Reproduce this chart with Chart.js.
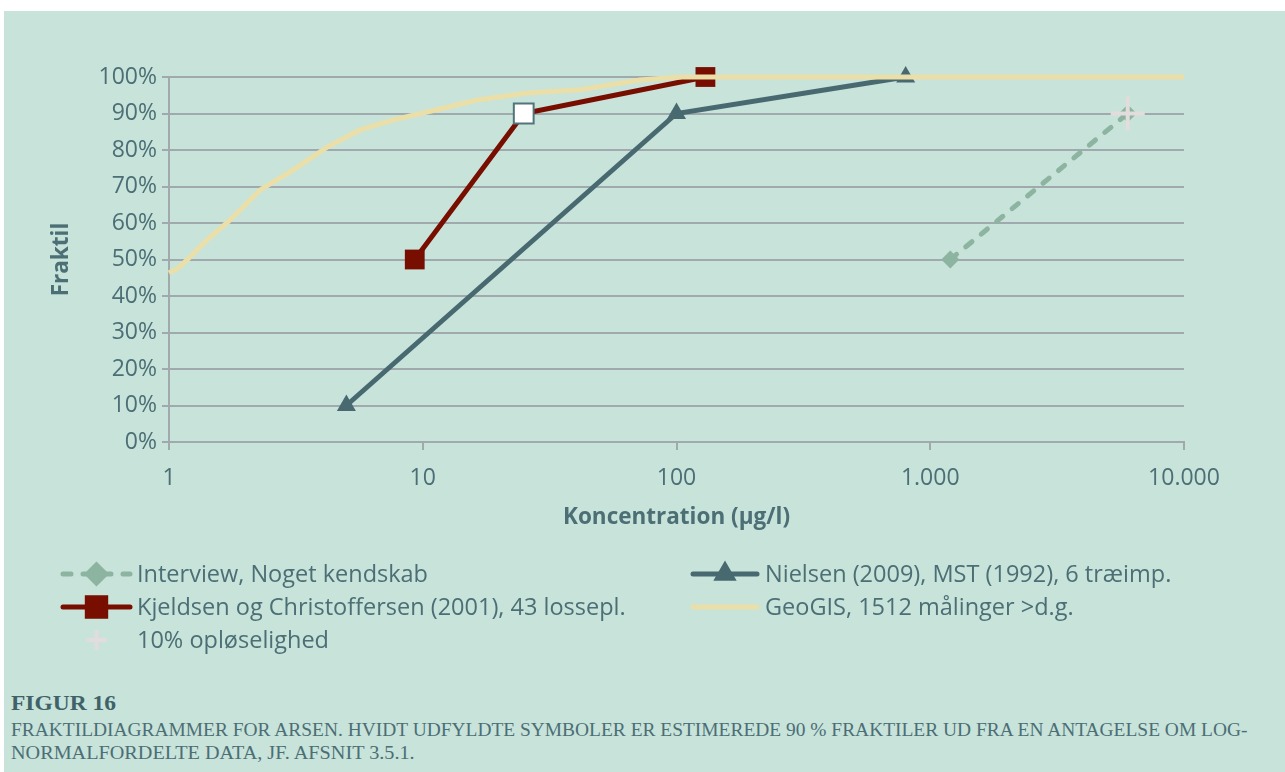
<!DOCTYPE html>
<html>
<head>
<meta charset="utf-8">
<script src="https://cdn.jsdelivr.net/npm/chart.js@4.4.1/dist/chart.umd.min.js"></script>
<style>
  html, body { margin: 0; padding: 0; background: #ffffff; width: 1285px; height: 772px; overflow: hidden; }
  #panel { position: absolute; left: 4px; top: 11px; right: 0; bottom: 0; background: #c7e3da; }
  #chart { position: absolute; left: 0; top: 0; }
  .cap { position: absolute; left: 11px; font-family: "Liberation Serif", serif; color: #4c6e75; white-space: nowrap; transform-origin: 0 0; line-height: 1.15; }
  #capTitle { top: 691px; font-size: 21px; font-weight: bold; color: #3f6269; }
  #capLine1 { top: 719px; font-size: 19px; }
  #capLine2 { top: 742px; font-size: 19px; }
</style>
</head>
<body>
<div id="panel"></div>
<canvas id="chart" width="1285" height="660"></canvas>
<div class="cap" id="capTitle">FIGUR 16</div>
<div class="cap" id="capLine1">FRAKTILDIAGRAMMER FOR ARSEN. HVIDT UDFYLDTE SYMBOLER ER ESTIMEREDE 90 % FRAKTILER UD FRA EN ANTAGELSE OM LOG-</div>
<div class="cap" id="capLine2">NORMALFORDELTE DATA, JF. AFSNIT 3.5.1.</div>
<script>
// series values (concentration in µg/l, fraktil in %)
const interviewX = [1200, 6000];
const interviewY = [50, 90];
const nielsenX = [5, 100, 800];
const nielsenY = [10, 90, 100];
const kjeldsenX = [9.3, 25, 130];
const kjeldsenY = [50, 90, 100];
const geoX = [1.0, 1.1, 1.21, 1.41, 1.69, 1.96, 2.28, 3.08, 4.2, 5.66, 7.6, 10.4, 16.4, 25.8, 41.7, 71.8, 103, 10000];
const geoY = [46.3, 47.9, 50.7, 55.3, 60, 64.4, 69, 74.5, 80.8, 85.5, 88.2, 90.4, 93.7, 95.6, 96.5, 99.2, 100, 100];
const opl10X = [6000];
const opl10Y = [90];

const xTicks = [1, 10, 100, 1000, 10000];
const legendLabels = [
  'Interview, Noget kendskab',
  'Nielsen (2009), MST (1992), 6 træimp.',
  'Kjeldsen og Christoffersen (2001), 43 lossepl.',
  'GeoGIS, 1512 målinger >d.g.',
  '10% opløselighed'
];
const xTitle = 'Koncentration (µg/l)';
const yTitle = 'Fraktil';

const textColor = '#4c6e75';
const gridColor = '#a0a9ab';
const FONT = '"Open Sans", sans-serif';

function pts(xs, ys) {
  return xs.map((x, i) => ({ x: x, y: ys[i] }));
}

function fmtThousands(v) {
  return String(v).replace(/\B(?=(\d{3})+(?!\d))/g, '.');
}

const datasets = [
  {
    label: legendLabels[0],
    data: pts(interviewX, interviewY),
    borderColor: '#8db4a0',
    backgroundColor: '#8db4a0',
    borderWidth: 5,
    borderDash: [8, 12],
    borderCapStyle: 'round',
    pointStyle: 'rectRot',
    pointRadius: 9,
    pointBorderWidth: 0,
    clip: false,
    order: 4,
  },
  {
    label: legendLabels[1],
    data: pts(nielsenX, nielsenY),
    borderColor: '#496970',
    backgroundColor: '#496970',
    borderWidth: 5,
    pointStyle: 'triangle',
    pointRadius: 11,
    pointBorderWidth: 0,
    clip: false,
    order: 3,
  },
  {
    label: legendLabels[2],
    data: pts(kjeldsenX, kjeldsenY),
    borderColor: '#780e00',
    backgroundColor: '#780e00',
    borderWidth: 5,
    pointStyle: 'rect',
    pointRadius: 14,
    pointBackgroundColor: ['#780e00', '#ffffff', '#780e00'],
    pointBorderColor: ['#780e00', '#52757b', '#780e00'],
    pointBorderWidth: [0, 2, 0],
    clip: false,
    order: 2,
  },
  {
    label: legendLabels[3],
    data: pts(geoX, geoY),
    borderColor: '#ebdfa9',
    backgroundColor: '#ebdfa9',
    borderWidth: 5,
    pointRadius: 0,
    clip: false,
    order: 1,
  },
  {
    label: legendLabels[4],
    data: pts(opl10X, opl10Y),
    borderColor: '#e3dcdc',
    backgroundColor: '#e3dcdc',
    showLine: false,
    pointStyle: 'cross',
    pointRadius: 17,
    pointBorderWidth: 4,
    clip: false,
    order: 0,
  },
];

// custom legend in two columns + axis titles
const extrasPlugin = {
  id: 'extras',
  afterDraw(chart) {
    const ctx = chart.ctx;
    const area = chart.chartArea;
    ctx.save();
    ctx.fillStyle = textColor;
    ctx.font = 'bold 22.5px ' + FONT;
    ctx.textAlign = 'center';
    ctx.textBaseline = 'middle';
    ctx.fillText(xTitle, (area.left + area.right) / 2, 518);
    ctx.translate(62, (area.top + area.bottom) / 2);
    ctx.rotate(-Math.PI / 2);
    ctx.fillText(yTitle, 0, 0);
    ctx.restore();

    const cols = [{ x0: 60, x1: 133, tx: 137 }, { x0: 690, x1: 760, tx: 765 }];
    const rows = [574, 607, 640];
    const slots = [[0, 0], [0, 1], [1, 0], [1, 1], [2, 0]];
    const legendPoint = [
      { style: 'rectRot', r: 9 },
      { style: 'triangle', r: 8.5 },
      { style: 'rect', r: 13 },
      null,
      { style: 'cross', r: 10 },
    ];
    datasets.forEach((ds, i) => {
      const c = cols[slots[i][1]];
      const y = rows[slots[i][0]];
      const cx = (c.x0 + c.x1) / 2;
      ctx.save();
      if (ds.showLine !== false) {
        ctx.strokeStyle = ds.borderColor;
        ctx.lineWidth = ds.borderWidth;
        ctx.lineCap = 'round';
        ctx.setLineDash(ds.borderDash ? [8, 12] : []);
        ctx.beginPath();
        ctx.moveTo(c.x0 + 3, y);
        ctx.lineTo(c.x1 - 3, y);
        ctx.stroke();
        ctx.setLineDash([]);
      }
      const lp = legendPoint[i];
      if (lp) {
        ctx.fillStyle = ds.backgroundColor;
        ctx.strokeStyle = ds.borderColor;
        ctx.lineWidth = ds.pointStyle === 'cross' ? 4 : 0;
        Chart.helpers.drawPoint(ctx, { pointStyle: lp.style, radius: lp.r, rotation: 0, borderWidth: ctx.lineWidth }, cx, y);
      }
      ctx.fillStyle = textColor;
      ctx.font = '23.5px ' + FONT;
      ctx.textAlign = 'left';
      ctx.textBaseline = 'middle';
      ctx.fillText(ds.label, c.tx, y + 1);
      ctx.restore();
    });
  },
};

new Chart(document.getElementById('chart').getContext('2d'), {
  type: 'line',
  data: { datasets: datasets },
  options: {
    responsive: false,
    animation: false,
    devicePixelRatio: 1,
    layout: { padding: { left: 0, top: 77, right: 101, bottom: 118 } },
    plugins: { legend: { display: false }, tooltip: { enabled: false } },
    elements: { line: { tension: 0 } },
    scales: {
      x: {
        type: 'logarithmic',
        min: 1,
        max: 10000,
        afterBuildTicks: (scale) => { scale.ticks = xTicks.map((v) => ({ value: v })); },
        afterFit: (scale) => { scale.height = 100; },
        ticks: {
          color: textColor,
          font: { family: FONT, size: 23 },
          padding: 15,
          maxRotation: 0,
          callback: (v) => fmtThousands(v),
        },
        grid: { drawOnChartArea: false, color: gridColor, lineWidth: 2, tickLength: 8 },
        border: { color: gridColor, width: 2 },
      },
      y: {
        min: 0,
        max: 100,
        afterFit: (scale) => { scale.width = 169; },
        ticks: {
          stepSize: 10,
          color: textColor,
          font: { family: FONT, size: 23 },
          padding: 5,
          callback: (v) => v + '%',
        },
        grid: { color: gridColor, lineWidth: 2, tickLength: 7 },
        border: { color: gridColor, width: 2 },
      },
    },
  },
  plugins: [extrasPlugin],
});

// fit caption lines to the reference widths
[['capTitle', 105], ['capLine1', 1236], ['capLine2', 404]].forEach(([id, w]) => {
  const el = document.getElementById(id);
  el.style.transform = 'scaleX(' + (w / el.offsetWidth) + ')';
});
</script>
</body>
</html>
